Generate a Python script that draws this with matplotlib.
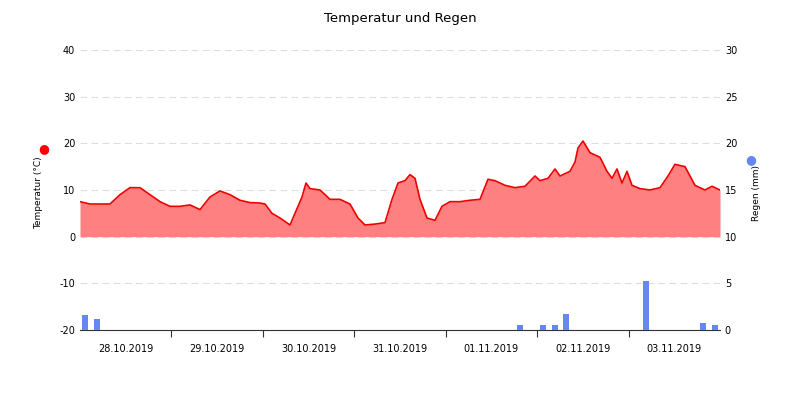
import matplotlib
matplotlib.use("Agg")
import matplotlib.pyplot as plt
import numpy as np
plt.rcParams["axes.unicode_minus"] = False

px = [80,90,100,110,120,130,140,150,160,170,180,190,200,210,220,230,240,250,260,265,272,280,290,295,302,306,310,320,330,340,350,358,365,375,385,392,398,405,410,415,420,427,435,442,450,460,470,480,488,495,505,515,525,535,540,548,555,560,570,575,578,583,590,600,607,612,617,622,627,632,640,650,660,668,675,685,695,705,712,720]
temp = [7.5,7,7,7,9,10.5,10.5,9,7.5,6.5,6.5,6.8,5.8,8.5,9.8,9,7.8,7.3,7.2,7,5,4,2.5,5,8.5,11.5,10.3,10,8,8,7,4,2.5,2.7,3,8,11.5,12,13.3,12.5,8,4,3.5,6.5,7.5,7.5,7.8,8,12.3,12,11,10.5,10.8,13,12,12.5,14.5,13,14,16,19,20.5,18,17,14,12.5,14.5,11.5,14,11,10.3,10,10.5,13,15.5,15,11,10,10.8,10]
hours = [(x-80)*168/640 for x in px]
rain_hours = [1.3,4.5,115.5,121.5,124.7,127.6,148.6,163.5,166.7]
rain = [1.6,1.2,0.5,0.5,0.5,1.7,5.2,0.8,0.5]
day_labels = ["28.10.2019","29.10.2019","30.10.2019","31.10.2019","01.11.2019","02.11.2019","03.11.2019"]

fig = plt.figure(figsize=(8,4), dpi=100)
ax = fig.add_axes([0.1,0.175,0.8,0.7])
ax.fill_between(hours, temp, 0, color="#ff8080", lw=0)
ax.plot(hours, temp, color="#ee0000", lw=1.2)
ax.set_ylim(-20,40); ax.set_xlim(0,168)
ax.set_yticks(range(-20,41,10))
ax.grid(axis="y", color="#dddddd", ls=(0,(6,4)), lw=0.8)
ax.set_axisbelow(True)
for s in ["top","left","right"]:
    ax.spines[s].set_visible(False)
ax.spines["bottom"].set_color("#333333")
ax.set_xticks(np.arange(0,169,24)[1:-1])
ax.set_xticklabels([])
ax.set_xticks(np.arange(12,168,24), minor=True)
ax.set_xticklabels(day_labels, minor=True, fontsize=7)
ax.tick_params(axis="x", which="minor", length=0, pad=10)
ax.tick_params(axis="x", which="major", length=5, color="#333333")
ax.tick_params(axis="y", length=0, labelsize=7)
ax.set_ylabel("Temperatur (°C)", fontsize=6.5)
ax.yaxis.set_label_coords(-0.058, 0.49)

ax2 = ax.twinx()
ax2.bar(rain_hours, rain, width=1.6, color="#6688ee")
ax2.set_ylim(0,30)
ax2.set_yticks(range(0,31,5))
ax2.tick_params(axis="y", length=0, labelsize=7)
for s in ["top","left","right","bottom"]:
    ax2.spines[s].set_visible(False)
ax2.set_ylabel("Regen (mm)", fontsize=6.5)
ax2.yaxis.set_label_coords(1.05, 0.49)

fig.text(0.055,0.628,"●",color="red",fontsize=9,ha="center",va="center")
fig.text(0.938,0.6,"●",color="#6688ee",fontsize=9,ha="center",va="center")
fig.suptitle("Temperatur und Regen", fontsize=9.5, y=0.97)
fig.savefig("out.png", dpi=100)
